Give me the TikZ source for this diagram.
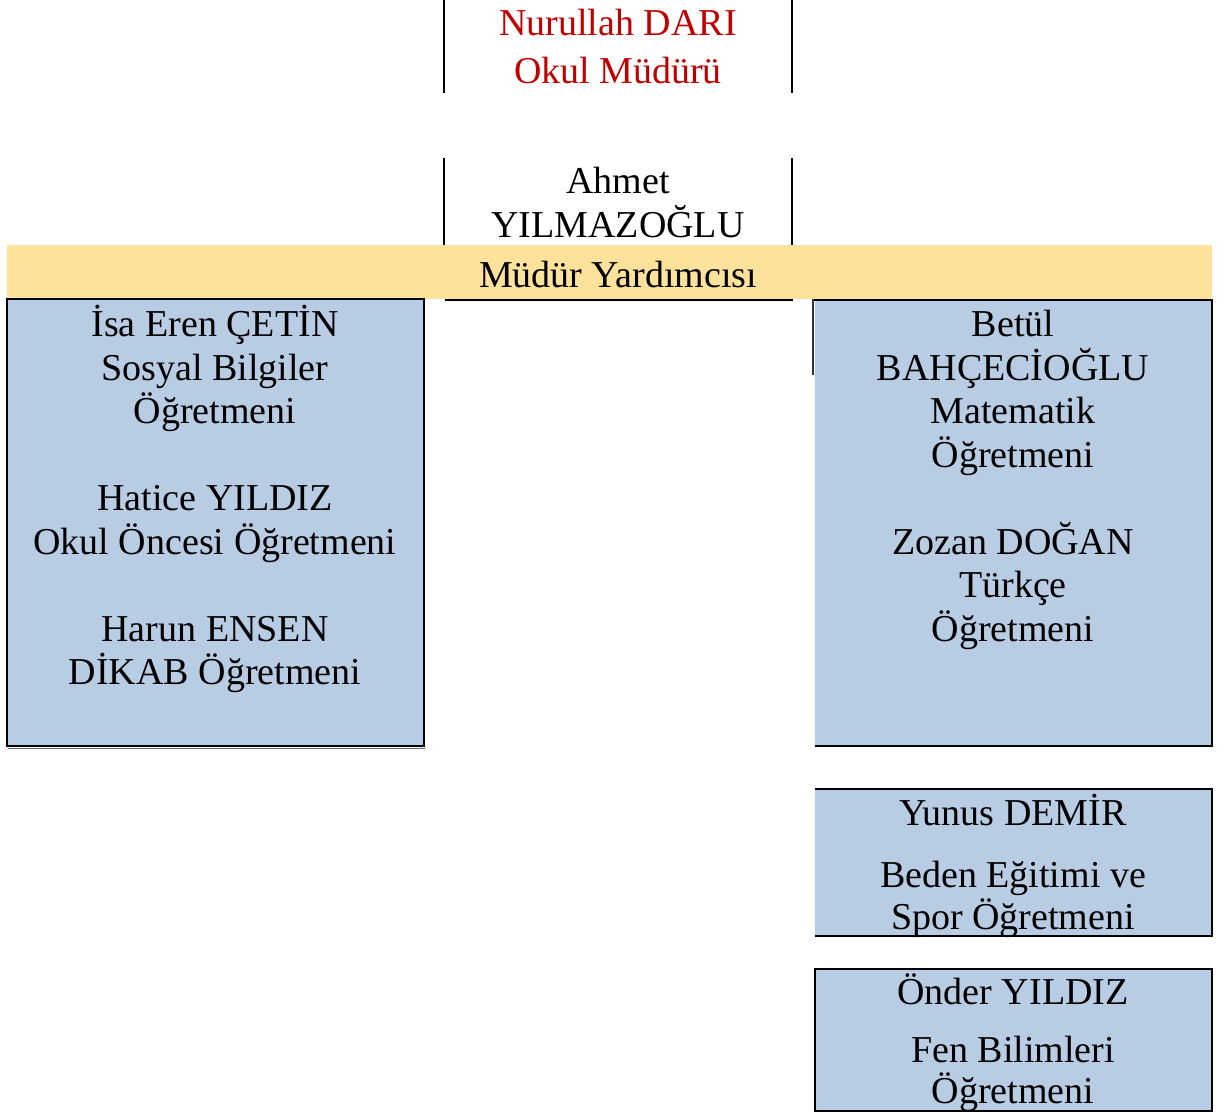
\documentclass[tikz,border=0pt]{standalone}
\usepackage{fontspec}
\setmainfont{Liberation Serif}
\definecolor{chiefred}{HTML}{C00000}
\definecolor{bandyellow}{HTML}{FEE29B}
\definecolor{boxblue}{HTML}{B8CCE4}
\begin{document}
\begin{tikzpicture}[x=0.5pt,y=-0.5pt,
  txt/.style={anchor=base,inner sep=0pt,font=\fontsize{19}{22}\selectfont},
  redtxt/.style={txt,text=chiefred},
  edge/.style={line width=1pt,black},
  thin/.style={line width=0.7pt,black}]
\useasboundingbox (0,0) rectangle (1226,1113);
% principal
\draw[thin] (444,0) -- (444,93);
\draw[thin] (792,0) -- (792,93);
\node[redtxt] (p1) at (618,36) {Nurullah DARI};
\node[redtxt] (p2) at (618,84) {Okul Müdürü};
% assistant
\draw[thin] (444,158) -- (444,245);
\draw[thin] (792,158) -- (792,245);
\fill[bandyellow] (7,245) rectangle (1212,299);
\node[txt] (a1) at (618,193) {Ahmet};
\node[txt] (a2) at (618,237) {YILMAZOĞLU};
\node[txt] (a3) at (618,287) {Müdür Yardımcısı};
\draw[edge] (445,299.5) -- (793,299.5);
% left box
\fill[boxblue] (7,299) rectangle (424,746);
\draw[edge] (7,299) rectangle (424,746);
\draw[line width=0.6pt,black!60] (8,748.5) -- (425,748.5);
\node[txt] (l1) at (215,336) {İsa Eren ÇETİN};
\node[txt] (l2) at (215,380) {Sosyal Bilgiler};
\node[txt] (l3) at (215,423) {Öğretmeni};
\node[txt] (l4) at (215,510) {Hatice YILDIZ};
\node[txt] (l5) at (215,554) {Okul Öncesi Öğretmeni};
\node[txt] (l6) at (215,641) {Harun ENSEN};
\node[txt] (l7) at (215,684) {DİKAB Öğretmeni};
% right box
\fill[boxblue] (815,299) rectangle (1212,746);
\draw[edge] (814,299.5) -- (1212,299.5) -- (1212,746) -- (815,746);
\draw[line width=0.6pt,black!80] (813,299) -- (813,375);
\node[txt] (r1) at (1013,336) {Betül};
\node[txt] (r2) at (1013,380) {BAHÇECİOĞLU};
\node[txt] (r3) at (1013,423) {Matematik};
\node[txt] (r4) at (1013,467) {Öğretmeni};
\node[txt] (r5) at (1013,554) {Zozan DOĞAN};
\node[txt] (r6) at (1013,597) {Türkçe};
\node[txt] (r7) at (1013,641) {Öğretmeni};
% box 3
\fill[boxblue] (815,788) rectangle (1212,936);
\draw[edge] (815,788.5) -- (1212,788.5) -- (1212,935.5) -- (815,935.5);
\node[txt] (y1) at (1013,825) {Yunus DEMİR};
\node[txt] (y2) at (1013,887) {Beden Eğitimi ve};
\node[txt] (y3) at (1013,929) {Spor Öğretmeni};
% box 4
\fill[boxblue] (815,968) rectangle (1212,1111);
\draw[edge] (815,968.5) rectangle (1212,1111);
\node[txt] (f1) at (1013,1004) {Önder YILDIZ};
\node[txt] (f2) at (1013,1062) {Fen Bilimleri};
\node[txt] (f3) at (1013,1103) {Öğretmeni};
\end{tikzpicture}
\end{document}
